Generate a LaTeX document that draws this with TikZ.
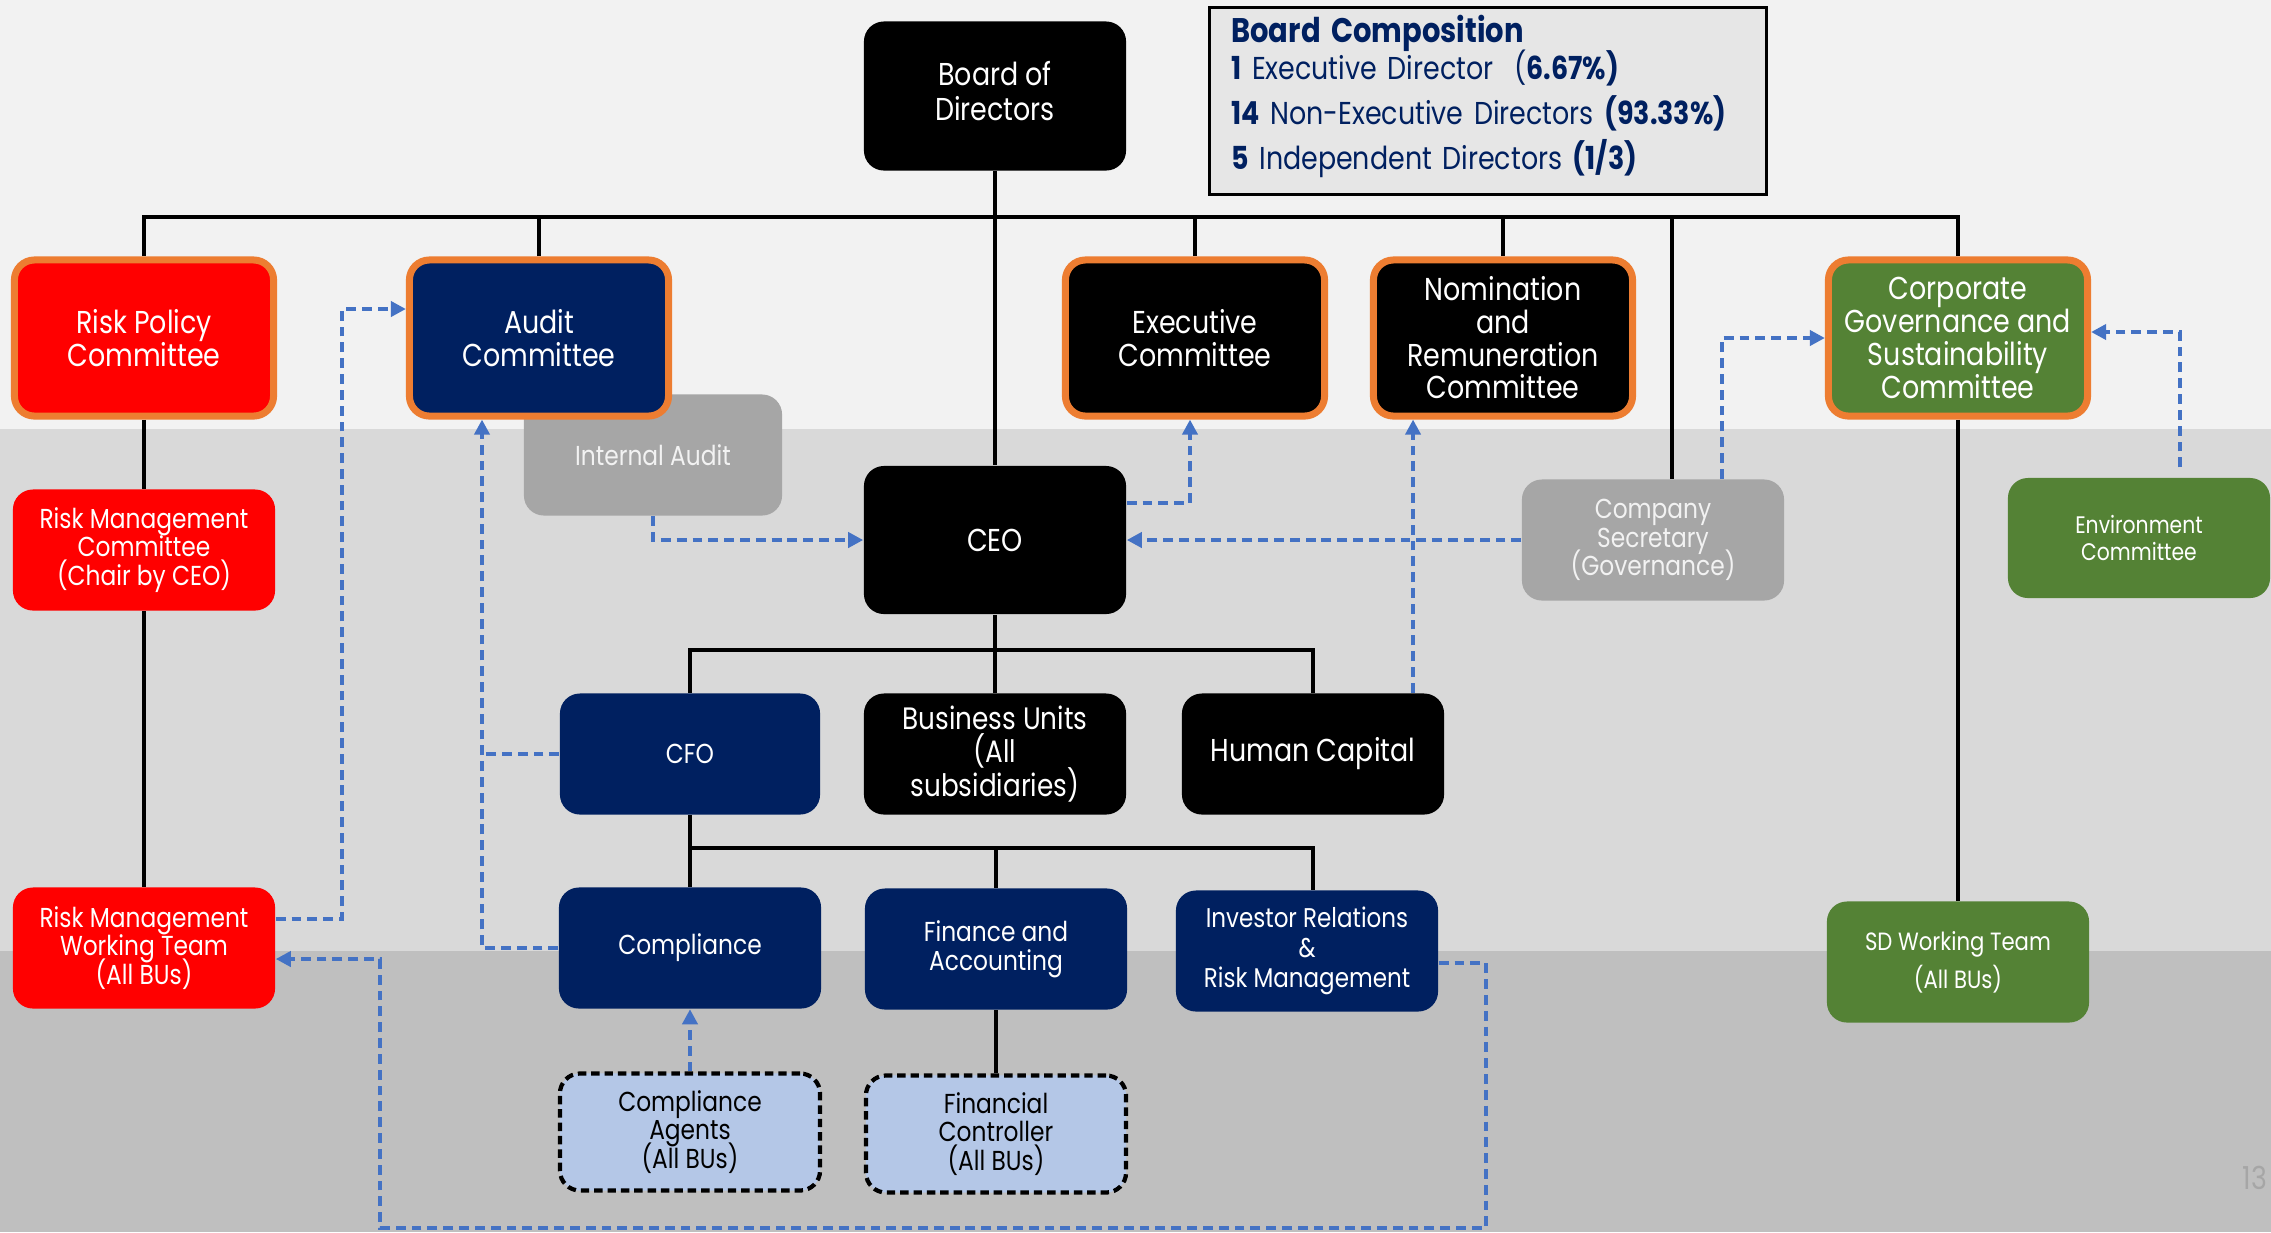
\documentclass[tikz,border=0pt]{standalone}
\usepackage{fontspec}
\setmainfont{Poppins}[FakeStretch=0.85]
\usetikzlibrary{arrows.meta}

\definecolor{boardnavy}{HTML}{002060}
\definecolor{cmtorange}{HTML}{ED7D31}
\definecolor{leafgreen}{HTML}{548235}
\definecolor{staffgray}{HTML}{A6A6A6}
\definecolor{agentblue}{HTML}{B4C7E7}
\definecolor{linkblue}{HTML}{4472C4}
\definecolor{bandtop}{HTML}{F2F2F2}
\definecolor{bandmid}{HTML}{D9D9D9}
\definecolor{bandlow}{HTML}{BFBFBF}
\definecolor{compgray}{HTML}{E6E6E6}
\definecolor{paletext}{HTML}{F2F2F2}

\newcommand\fixfs[2]{\fontsize{#1}{#2}\selectfont\lineskiplimit=-10pt\relax}
\newcommand\bigfs{\fixfs{9}{9.3}}
\newcommand\smallfs{\fixfs{7.8}{8.2}}
\newcommand\compfs{\fixfs{9}{12.8}}

\pgfdeclarelayer{bg}
\pgfsetlayers{bg,main}

\tikzset{
  unit/.style={rounded corners=2mm, align=center, text=white, inner sep=1pt,
    minimum width=2.62cm, minimum height=1.21cm, font=\smallfs},
  cmte/.style={unit, draw=cmtorange, line width=2pt, minimum width=2.59cm,
    minimum height=1.56cm, font=\bigfs},
  agent/.style={unit, text=black, fill=agentblue, draw=black, line width=1.2pt,
    dash pattern=on 2.4pt off 1.4pt, minimum width=2.6cm, minimum height=1.17cm},
  tree/.style={line width=1.4pt},
  link/.style={draw=linkblue, line width=1.1pt, dash pattern=on 2.8pt off 1.7pt,
    -{Triangle[length=4.3pt,width=4.3pt]}},
  linknoarrow/.style={link, -},
}

\begin{document}
\begin{tikzpicture}[x=0.01cm, y=-0.01cm]
  \useasboundingbox (0,0) rectangle (2271,1232);
  % Bands behind everything
  \begin{pgfonlayer}{bg}
    \fill[bandtop] (0,0) rectangle (2271,429);
    \fill[bandmid] (0,429) rectangle (2271,951);
    \fill[bandlow] (0,951) rectangle (2271,1232);
  \end{pgfonlayer}

  % Board and its composition
  \node[unit, fill=black, minimum height=1.49cm, font=\fixfs{9}{10}]
    (board) at (995,96) {Board of\\Directors\rule[-1.1mm]{0pt}{0pt}};
  \node[draw=black, line width=0.9pt, fill=compgray, minimum width=5.56cm,
    minimum height=1.87cm, text width=5.13cm, align=left, text=boardnavy,
    font=\compfs, inner sep=0pt] (bcomp) at (1488,101)
    {{\fixfs{9.7}{10}\bfseries Board Composition}\\[-2.4pt]
     \textbf{1} Executive Director~~(\textbf{6.67\%)}\\
     \textbf{14} Non-Executive Directors \textbf{(93.33\%)}\\
     \textbf{5} Independent Directors \textbf{(1/3)}\rule[-1.7mm]{0pt}{0pt}};

  % Committees: orange border
  \node[unit, fill=staffgray, text=paletext, minimum width=2.58cm] (intaudit)
    at (653,455) {Internal Audit};
  \node[cmte, fill=red] (riskpol) at (144,338) {Risk Policy\\Committee};
  \node[cmte, fill=boardnavy] (audit) at (539,338) {Audit\\Committee};
  \node[cmte, fill=black] (exec) at (1195,338) {Executive\\Committee};
  \node[cmte, fill=black] (nomrem) at (1503,338)
    {Nomination\\and\\Remuneration\\Committee};
  \node[cmte, fill=leafgreen] (cgsc) at (1958,338)
    {Corporate\\Governance and\\Sustainability\\Committee};

  % CEO row
  \node[unit, fill=black, minimum height=1.48cm, font=\bigfs] (ceo) at (995,540) {CEO};
  \node[unit, fill=red] (rmc) at (144,550) {Risk Management\\Committee\\(Chair by CEO)};
  \node[unit, fill=staffgray, text=paletext] (cosec) at (1653,540)
    {Company\\Secretary\\(Governance)};
  \node[unit, fill=leafgreen, minimum height=1.2cm,
    font=\fixfs{6.8}{7.4}] (envc) at (2139,538) {Environment\\Committee};

  % Under the CEO
  \node[unit, fill=boardnavy, minimum width=2.6cm] (cfo) at (690,754) {CFO};
  \node[unit, fill=black, font=\fixfs{8.8}{9.5}] (bu) at (995,754)
    {Business Units\\(All\\subsidiaries)};
  \node[unit, fill=black, font=\bigfs] (hc) at (1313,754) {Human Capital};

  % Under the CFO
  \node[unit, fill=boardnavy] (compl) at (690,948) {Compliance};
  \node[unit, fill=boardnavy] (finacc) at (996,949) {Finance and\\Accounting};
  \node[unit, fill=boardnavy, font=\fixfs{7.7}{8.6}] (irrm) at (1307,951)
    {Investor Relations\\\&\\Risk Management};
  \node[unit, fill=red] (rmwt) at (144,948) {Risk Management\\Working Team\\(All BUs)};
  \node[unit, fill=leafgreen, font=\fixfs{7.1}{10.7}] (sdwt) at (1958,962)
    {SD Working Team\\(All BUs)};

  % Agents: dashed border
  \node[agent] (compag) at (690,1132) {Compliance\\Agents\\(All BUs)};
  \node[agent] (fincon) at (996,1134) {Financial\\Controller\\(All BUs)};

  \node[text=staffgray, font=\bigfs, anchor=east, inner sep=0pt] (pagenum)
    at (2268,1178) {13};

  % Reporting lines, under the boxes
  \begin{pgfonlayer}{bg}
    \coordinate (topbus) at (995,217);
    \coordinate (secdrop) at (1672,217);
    \coordinate (midbus) at (995,650);
    \coordinate (lowbus) at (995,848);
    \draw[tree] (board) -- (ceo);
    \draw[tree] (riskpol.north) |- (topbus) -| (cgsc.north);
    \foreach \n in {audit,exec,nomrem}
      \draw[tree] (\n.north) -- (\n.north |- topbus);
    \draw[tree] (secdrop) -- (secdrop |- cosec.north);
    \draw[tree] (riskpol) -- (rmc);
    \draw[tree] (rmc) -- (rmwt);
    \draw[tree] (cgsc) -- (sdwt);
    \draw[tree] (ceo) -- (bu);
    \draw[tree] (cfo.north) |- (midbus) -| (hc.north);
    \draw[tree] (cfo) -- (compl);
    \draw[tree] (compl.north) |- (lowbus) -| (hc |- irrm.north);
    \draw[tree] (finacc.north) -- (finacc.north |- lowbus);
    \draw[tree] (finacc) -- (fincon);
  \end{pgfonlayer}

  % Dotted reporting: blue
  \coordinate (a1) at (342,309);
  \draw[link] ([yshift=2.9mm]rmwt.east) -| (a1) -- (a1 -| audit.west);
  \coordinate (b1) at (482,948);
  \draw[link] (compl.west) -- (b1) -- (b1 |- audit.south);
  \draw[linknoarrow] (cfo.west) -- (cfo.west -| b1);
  \draw[link] (intaudit.south) |- (ceo.west);
  \draw[link] ([yshift=3.7mm]ceo.east) -| ([xshift=-0.5mm]exec.south);
  \draw[link] (cosec.west) -- (ceo.east);
  \coordinate (f1) at ([xshift=1cm]hc.north);
  \draw[link] (f1) -- (f1 |- nomrem.south);
  \coordinate (g1) at ([xshift=6.9mm]cosec.north);
  \draw[link] (g1) |- (cgsc.west);
  \coordinate (h1) at ([xshift=4.1mm,yshift=1mm]envc.north);
  \draw[link] (h1) |- ([yshift=0.6mm]cgsc.east);
  \coordinate (i1) at (1486,1228);
  \coordinate (i2) at (380,1228);
  \draw[link] ([yshift=-1.2mm]irrm.east) -| (i1) -- (i2) |- ([yshift=-1.1mm]rmwt.east);
  \draw[link] (compag) -- (compl);
\end{tikzpicture}
\end{document}
